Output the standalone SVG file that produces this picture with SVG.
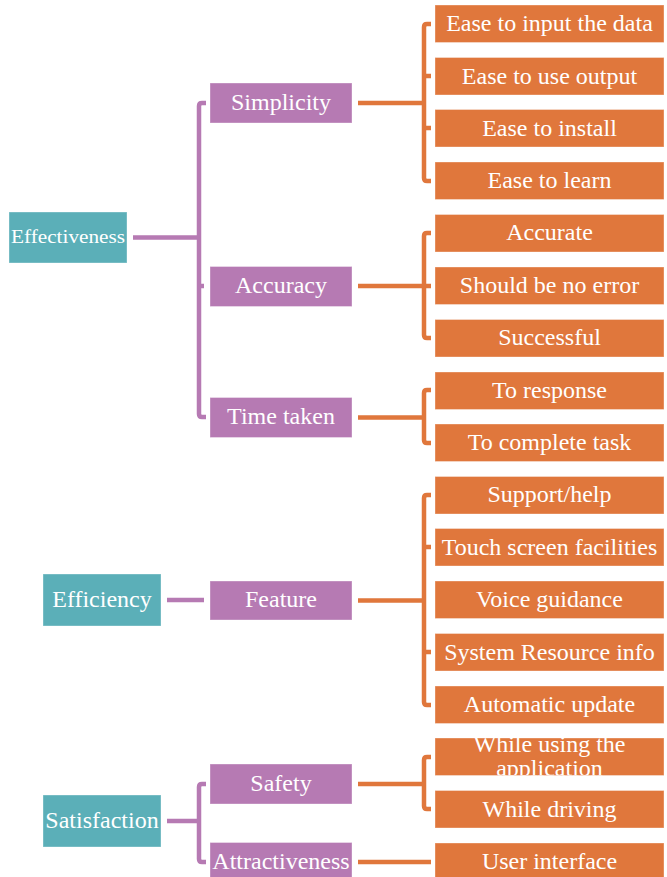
<svg xmlns="http://www.w3.org/2000/svg" width="667" height="877" viewBox="0 0 667 877">
<style>
.t{fill:#5BAFB8}.p{fill:#B67AB3}.o{fill:#E0773C}
rect{stroke:#ffffff;stroke-opacity:0.35;stroke-width:1}
text{font-family:"Liberation Serif","Times New Roman",serif;font-size:24px;fill:#ffffff;text-anchor:middle}
.cp{fill:none;stroke:#B67AB3;stroke-width:4.5;stroke-linejoin:round}
.co{fill:none;stroke:#E0773C;stroke-width:4.5;stroke-linejoin:round}
</style>
<defs>
<clipPath id="clipWU"><rect x="435" y="738" width="229" height="37.5"/></clipPath>
</defs>
<g id="connectors">
<path class="cp" d="M133,237.5 H199 M206,103 H202 Q199,103 199,106 V414 Q199,417 202,417 H206 M199,286 H204"/>
<path class="cp" d="M167,600 H204"/>
<path class="cp" d="M167,821 H199 M206,784 H202 Q199,784 199,787 V859 Q199,862 202,862 H206"/>
<path class="co" d="M358,103 H424 M431,24 H427 Q424,24 424,27 V178 Q424,181 427,181 H431 M424,76 H431 M424,128 H431"/>
<path class="co" d="M358,286 H424 M431,233 H427 Q424,233 424,236 V335 Q424,338 427,338 H431 M424,286 H431"/>
<path class="co" d="M358,417.5 H424 M431,390 H427 Q424,390 424,393 V440 Q424,443 427,443 H431"/>
<path class="co" d="M358,600.5 H424 M431,495 H427 Q424,495 424,498 V702 Q424,705 427,705 H431 M424,547 H431 M424,652 H431"/>
<path class="co" d="M358,784 H424 M431,757 H427 Q424,757 424,760 V806 Q424,809 427,809 H431"/>
<path class="co" d="M358,862 H431"/>
</g>
<g id="effectiveness"><rect class="t" x="9" y="212" width="118" height="51"/><text x="68" y="242.5" style="font-size:19.5px" textLength="114" lengthAdjust="spacingAndGlyphs">Effectiveness</text></g>
<g id="efficiency"><rect class="t" x="43" y="574" width="118" height="52"/><text x="102" y="607">Efficiency</text></g>
<g id="satisfaction"><rect class="t" x="43" y="795" width="118" height="52"/><text x="102" y="828">Satisfaction</text></g>
<g id="simplicity"><rect class="p" x="210" y="83" width="142" height="40"/><text x="281" y="109.5">Simplicity</text></g>
<g id="accuracy"><rect class="p" x="210" y="266.5" width="142" height="40"/><text x="281" y="293">Accuracy</text></g>
<g id="time-taken"><rect class="p" x="210" y="397.5" width="142" height="40"/><text x="281" y="424">Time taken</text></g>
<g id="feature"><rect class="p" x="210" y="581" width="142" height="39"/><text x="281" y="607">Feature</text></g>
<g id="safety"><rect class="p" x="210" y="764" width="142" height="40"/><text x="281" y="790.5">Safety</text></g>
<g id="attractiveness"><rect class="p" x="210" y="842.5" width="142" height="40"/><text x="281" y="869">Attractiveness</text></g>
<g id="ease-input"><rect class="o" x="435" y="5" width="229" height="37.5"/><text x="549.5" y="31">Ease to input the data</text></g>
<g id="ease-output"><rect class="o" x="435" y="57.5" width="229" height="37.5"/><text x="549.5" y="83.5">Ease to use output</text></g>
<g id="ease-install"><rect class="o" x="435" y="109.5" width="229" height="37.5"/><text x="549.5" y="135.5">Ease to install</text></g>
<g id="ease-learn"><rect class="o" x="435" y="162" width="229" height="37.5"/><text x="549.5" y="188">Ease to learn</text></g>
<g id="accurate"><rect class="o" x="435" y="214.5" width="229" height="37.5"/><text x="549.5" y="240">Accurate</text></g>
<g id="no-error"><rect class="o" x="435" y="267" width="229" height="37.5"/><text x="549.5" y="293">Should be no error</text></g>
<g id="successful"><rect class="o" x="435" y="319.5" width="229" height="37.5"/><text x="549.5" y="345">Successful</text></g>
<g id="to-response"><rect class="o" x="435" y="372" width="229" height="37.5"/><text x="549.5" y="397.5">To response</text></g>
<g id="to-complete"><rect class="o" x="435" y="424" width="229" height="37.5"/><text x="549.5" y="450">To complete task</text></g>
<g id="support"><rect class="o" x="435" y="476.5" width="229" height="37.5"/><text x="549.5" y="502">Support/help</text></g>
<g id="touch"><rect class="o" x="435" y="528.5" width="229" height="37.5"/><text x="549.5" y="554.5">Touch screen facilities</text></g>
<g id="voice"><rect class="o" x="435" y="581" width="229" height="37.5"/><text x="549.5" y="607">Voice guidance</text></g>
<g id="system"><rect class="o" x="435" y="633.5" width="229" height="37.5"/><text x="549.5" y="659.5">System Resource info</text></g>
<g id="automatic"><rect class="o" x="435" y="686" width="229" height="37.5"/><text x="549.5" y="712">Automatic update</text></g>
<g id="while-using"><rect class="o" x="435" y="738" width="229" height="37.5"/><g clip-path="url(#clipWU)"><text x="549.5" y="752">While using the</text><text x="549.5" y="775.5">application</text></g></g>
<g id="while-driving"><rect class="o" x="435" y="790.5" width="229" height="37.5"/><text x="549.5" y="816.5">While driving</text></g>
<g id="user-interface"><rect class="o" x="435" y="843" width="229" height="37.5"/><text x="549.5" y="869">User interface</text></g>
</svg>
